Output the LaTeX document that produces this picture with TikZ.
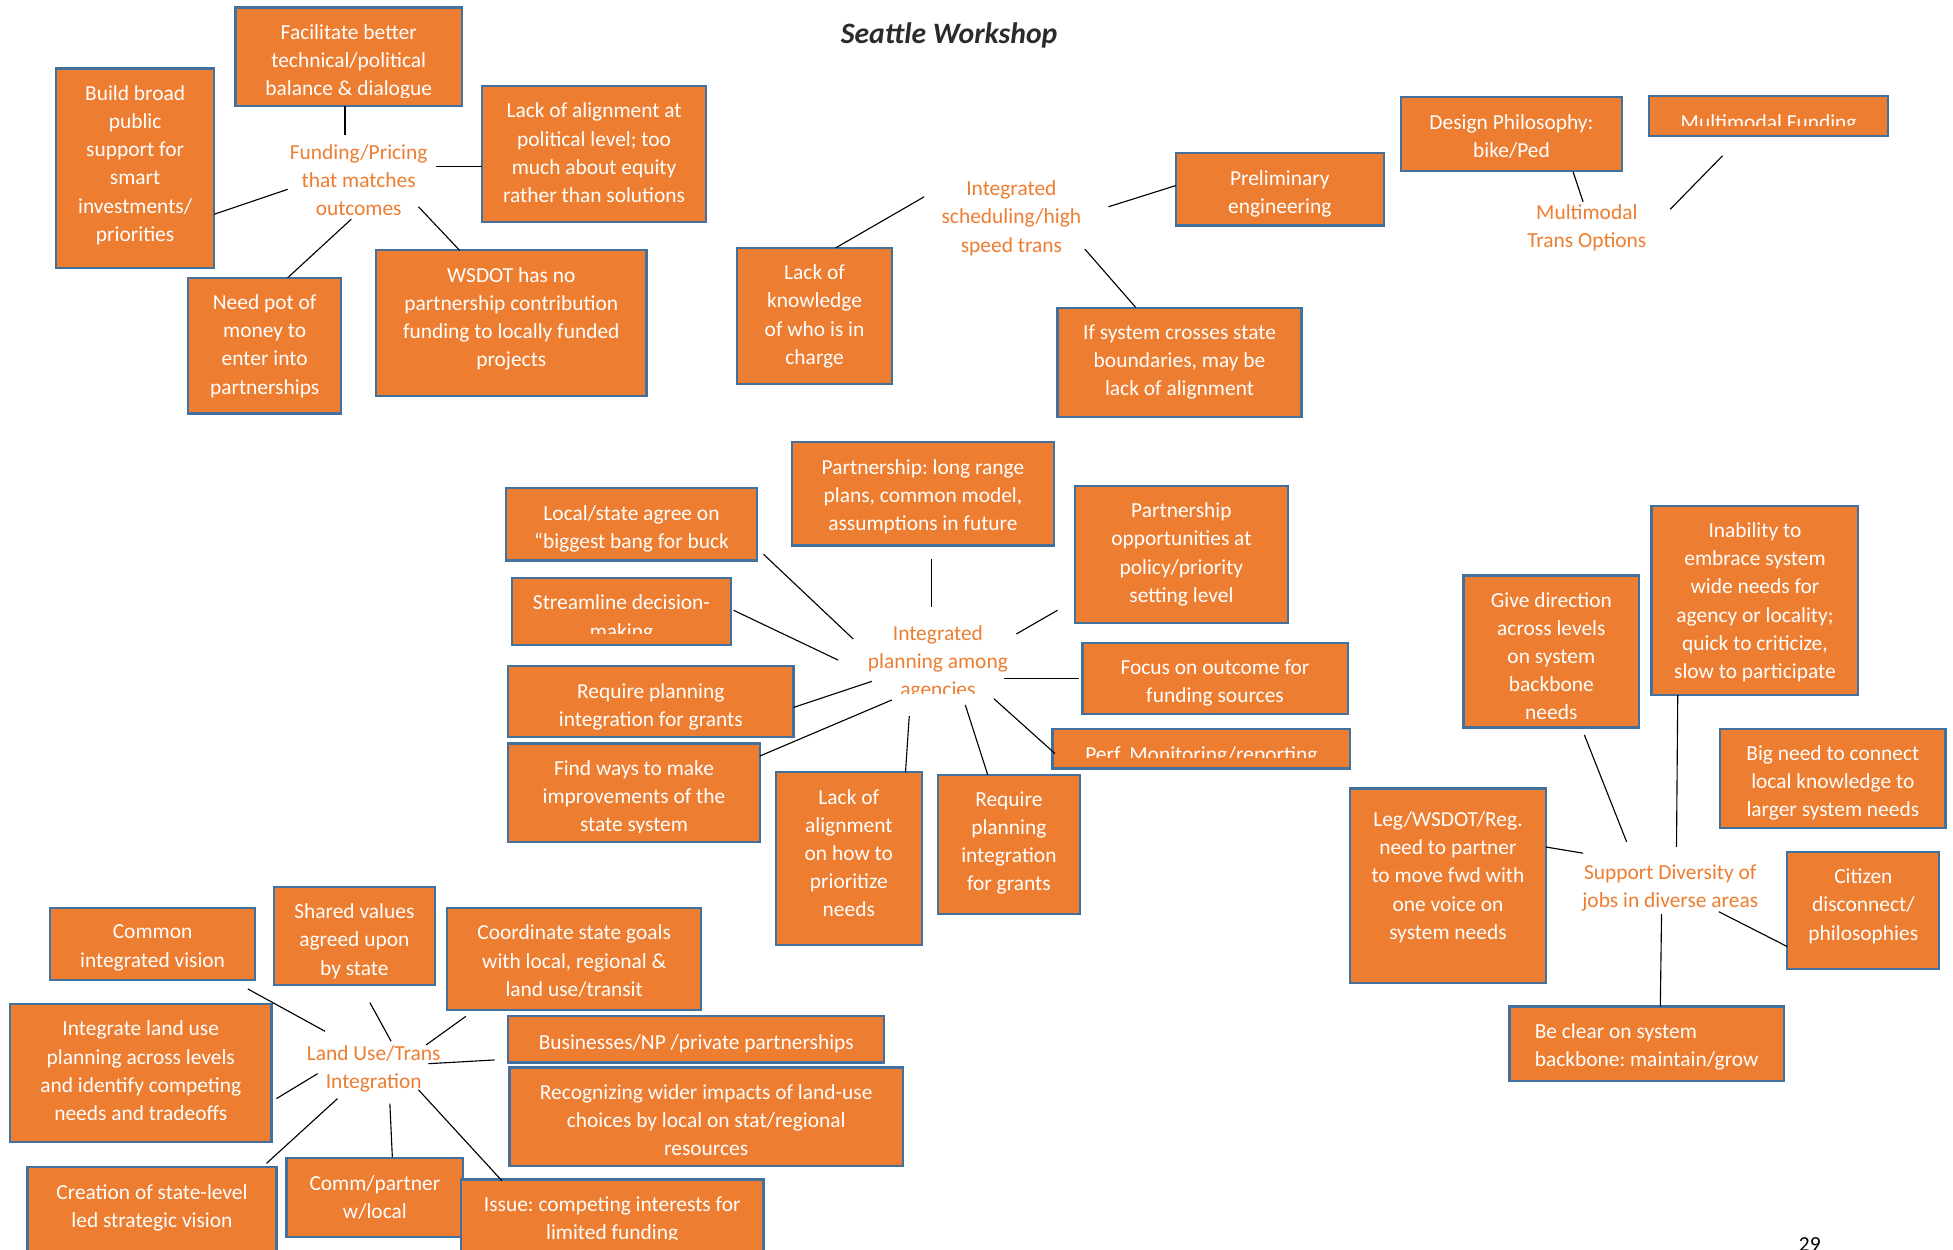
\documentclass[tikz,border=0pt]{standalone}
\usepackage{fontspec}
\setmainfont{Carlito}
\usetikzlibrary{calc}
\frenchspacing

\definecolor{boxfill}{HTML}{ED7D31}
\definecolor{boxline}{HTML}{41719C}
\definecolor{hubtext}{HTML}{ED7D31}
\definecolor{titlegray}{HTML}{2B2B2B}

\newcommand\bodyfont{\fontsize{17.2pt}{22.6pt}\selectfont}
% distance of the text cut-off line above a card's lower edge
\newcommand\cutin{2}

\tikzset{
  obox/.style={rectangle, fill=boxfill, draw=none, inner sep=0pt, outer sep=0pt},
  oline/.style={draw=boxline, line width=1.8pt},
  otext/.style={text=white, align=center, inner sep=0pt, font=\bodyfont,
    execute at begin node={\rule{0pt}{13pt}}},
  hub/.style={text=hubtext, align=center, inner sep=0pt, font=\bodyfont,
    execute at begin node={\rule{0pt}{13pt}}},
  conn/.style={draw=black, line width=0.9pt},
}

% \tbox[text options]{name}{x1}{y1}{x2}{y2}{text}: orange card, text from the top, cut off near the bottom edge
\newcommand\tbox[7][]{%
  \node[obox, anchor=north west, minimum width={(#5)-(#3)}, minimum height={(#6)-(#4)}] (#2) at (#3,#4) {};
  \begin{scope}
    \clip (#3,#4) rectangle (#5,#6-\cutin);
    \node[otext, anchor=north, yshift=-13.5pt, #1] at (#2.north) {#7};
  \end{scope}
  \draw[oline] (#2.south west) rectangle (#2.north east);
}
\newcommand\tightcut[1]{\renewcommand\cutin{#1}}

\begin{document}
\begin{tikzpicture}[x=1pt,y=-1pt]
\useasboundingbox (0,0) rectangle (1568,1003);
\fill[white] (0,0) rectangle (1568,1003);
\clip (0,0) rectangle (1568,1003);

% title and page number
\node[font=\fontsize{23.8pt}{28pt}\selectfont\bfseries\itshape, text=titlegray, anchor=base] (title) at (762,35) {Seattle Workshop};
\node[font=\bodyfont, anchor=base, inner sep=0pt] (pagenum) at (1453,1004.5) {29};

% ---------- Funding / Pricing ----------
\node[hub, anchor=north] (fund) at (288,116) {Funding/Pricing\\that matches\\outcomes};
\tightcut{7}
\tbox{facil}{189}{6}{371}{85}{Facilitate better\\technical/political\\balance \& dialogue}
\tightcut{2}
\tbox{build}{45}{55}{172}{215}{Build broad\\public\\support for\\smart\\investments/\\priorities}
\tbox{lackpol}{387}{69}{567}{178}{Lack of alignment at\\political level; too\\much about equity\\rather than solutions}
\tbox{needpot}{151}{223}{274}{332}{Need pot of\\money to\\enter into\\partnerships}
\tbox{wsdot}{302}{201}{519}{318}{WSDOT has no\\partnership contribution\\funding to locally funded\\projects}

\draw[conn] ($(facil.south west)+(88,0)$) -- ($(fund.north)+(-11,-8)$);
\draw[conn] ($(build.north east)+(0,117)$) -- ($(fund.north)+(-57,36)$);
\draw[conn] ($(lackpol.north west)+(0,65)$) -- ($(fund.north)+(62,18)$);
\draw[conn] ($(needpot.north west)+(80,0)$) -- ($(fund.north)+(-6,60)$);
\draw[conn] ($(wsdot.north west)+(67,0)$) -- ($(fund.north)+(48,50)$);

% ---------- Integrated scheduling ----------
\node[hub, anchor=north] (sched) at (812,145) {Integrated\\scheduling/high\\speed trans};
\tbox{lackknow}{592}{199}{716}{308}{Lack of\\knowledge\\of who is in\\charge}
\tbox{prelim}{944}{123}{1111}{181}{Preliminary\\engineering}
\tbox{ifsys}{849}{247}{1045}{335}{If system crosses state\\boundaries, may be\\lack of alignment}

\draw[conn] ($(lackknow.north west)+(79,0)$) -- ($(sched.north)+(-70,13)$);
\draw[conn] ($(prelim.north west)+(0,26)$) -- ($(sched.north)+(78,21)$);
\draw[conn] ($(ifsys.north west)+(63,0)$) -- ($(sched.north)+(59,55)$);

% ---------- Multimodal trans options ----------
\node[hub, anchor=north] (mmt) at (1274,164) {Multimodal\\Trans Options};
\tbox{design}{1125}{78}{1302}{137}{Design Philosophy:\\bike/Ped}
\tightcut{8.5}
\tbox{mmfund}{1324}{77}{1516}{109}{Multimodal Funding}
\tightcut{2}

\draw[conn] ($(design.south west)+(138,1)$) -- ($(mmt.north)+(-3,-2)$);
\draw[conn] ($(mmfund.south west)+(59,16)$) -- ($(mmt.north)+(67,4)$);

% ---------- Integrated planning among agencies ----------
\begin{scope}
  \clip (600,480) rectangle (900,557);
  \node[hub, anchor=north] (plan) at (753,502) {Integrated\\planning among\\agencies};
\end{scope}
\tbox{lrange}{636}{355}{846}{438}{Partnership: long range\\plans, common model,\\assumptions in future}
\tbox{lsagree}{406}{392}{608}{450}{Local/state agree on\\“biggest bang for buck}
\tbox{popp}{863}{390}{1034}{500}{Partnership\\opportunities at\\policy/priority\\setting level}
\tightcut{9}
\tbox{stream}{411}{464}{587}{518}{Streamline decision-\\making}
\tightcut{2}
\tbox{focus}{869}{516}{1082}{573}{Focus on outcome for\\funding sources}
\tbox{reqL}{408}{535}{637}{592}{Require planning\\integration for grants}
\tightcut{9}
\tbox{perf}{845}{585}{1084}{617}{Perf. Monitoring/reporting}
\tightcut{8}
\tbox{find}{408}{597}{610}{676}{Find ways to make\\improvements of the\\state system}
\tightcut{2}
\tbox{lackal}{623}{620}{740}{759}{Lack of\\alignment\\on how to\\prioritize\\needs}
\tbox{reqB}{753}{622}{867}{734}{Require\\planning\\integration\\for grants}

\draw[conn] ($(lsagree.north east)+(5,53)$) -- ($(plan.north)+(-68,11)$);
\draw[conn] ($(stream.north east)+(2,26)$) -- ($(plan.north)+(-80,28)$);
\draw[conn] ($(lrange.south west)+(112,11)$) -- ($(plan.north)+(-5,-15)$);
\draw[conn] ($(popp.north west)+(-14,100)$) -- ($(plan.north)+(63,7)$);
\draw[conn] ($(reqL.north east)+(0,33)$) -- ($(plan.north)+(-53,45)$);
\draw[conn] ($(focus.north west)+(-3,29)$) -- ($(plan.north)+(53,43)$);
\draw[conn] ($(find.north east)+(0,10)$) -- ($(plan.north)+(-37,60)$);
\draw[conn] ($(lackal.north west)+(104,0)$) -- ($(plan.north)+(-23,73)$);
\draw[conn] ($(reqB.north west)+(40,0)$) -- ($(plan.north)+(22,64)$);
\draw[conn] ($(perf.north west)+(2,20)$) -- ($(plan.north)+(45,59)$);

% ---------- Support diversity of jobs ----------
\node[hub, anchor=north] (jobs) at (1341,694) {Support Diversity of\\jobs in diverse areas};
\tbox{inab}{1326}{406}{1492}{558}{Inability to\\embrace system\\wide needs for\\agency or locality;\\quick to criticize,\\slow to participate}
\tightcut{7}
\tbox{give}{1175}{462}{1316}{584}{Give direction\\across levels\\on system\\backbone\\needs}
\tightcut{2}
\tbox{bigneed}{1381}{585}{1562}{665}{Big need to connect\\local knowledge to\\larger system needs}
\tbox[yshift=-5pt]{leg}{1084}{633}{1241}{789}{Leg/WSDOT/Reg.\\need to partner\\to move fwd with\\one voice on\\system needs}
\tbox{citizen}{1435}{684}{1557}{778}{Citizen\\disconnect/\\philosophies}
\tbox[align=left]{beclear}{1212}{808}{1432}{868}{Be clear on system\\backbone: maintain/grow}

\draw[conn] ($(give.south west)+(97,6)$) -- ($(jobs.north)+(-35,-18)$);
\draw[conn] ($(inab.south west)+(21,0)$) -- ($(jobs.north)+(5,-14)$);
\draw[conn] ($(leg.north east)+(0,47)$) -- ($(jobs.north)+(-70,-9)$);
\draw[conn] ($(citizen.north west)+(0,76)$) -- ($(jobs.north)+(39,38)$);
\draw[conn] ($(beclear.north west)+(121,0)$) -- ($(jobs.north)+(-7,40)$);

% ---------- Land use / trans integration ----------
\node[hub, anchor=north] (lut) at (300,839) {Land Use/Trans\\Integration};
\tbox{common}{40}{729}{205}{787}{Common\\integrated vision}
\tbox{shared}{220}{712}{349}{791}{Shared values\\agreed upon\\by state}
\tbox{coord}{359}{729}{563}{811}{Coordinate state goals\\with local, regional \&\\land use/transit}
\tbox{integ}{8}{806}{218}{917}{Integrate land use\\planning across levels\\and identify competing\\needs and tradeoffs}
\tbox{busi}{408}{816}{710}{853}{Businesses/NP /private partnerships}
\tbox{recog}{409}{857}{725}{936}{Recognizing wider impacts of land-use\\choices by local on stat/regional\\resources}
\tbox{creation}{22}{937}{222}{1010}{Creation of state-level\\led strategic vision}
\tbox{comm}{230}{930}{372}{993}{Comm/partner\\w/local}
\tightcut{9.5}
\tbox{issue}{370}{947}{613}{1004.5}{Issue: competing interests for\\limited funding}
\tightcut{2}

\draw[conn] ($(common.south west)+(159,7)$) -- ($(lut.north)+(-39,-11)$);
\draw[conn] ($(shared.south west)+(77,14)$) -- ($(lut.north)+(14,-3)$);
\draw[conn] ($(coord.south west)+(15,5)$) -- ($(lut.north)+(42,0)$);
\draw[conn] ($(busi.north west)+(-11,35)$) -- ($(lut.north)+(44,15)$);
\draw[conn] ($(integ.north east)+(4,76)$) -- ($(lut.north)+(-45,23)$);
\draw[conn] ($(creation.north west)+(192,-3)$) -- ($(lut.north)+(-29,43)$);
\draw[conn] ($(comm.north west)+(85,-1)$) -- ($(lut.north)+(13,47)$);
\draw[conn] ($(issue.north west)+(33,1)$) -- ($(lut.north)+(36,36)$);
\end{tikzpicture}
\end{document}
